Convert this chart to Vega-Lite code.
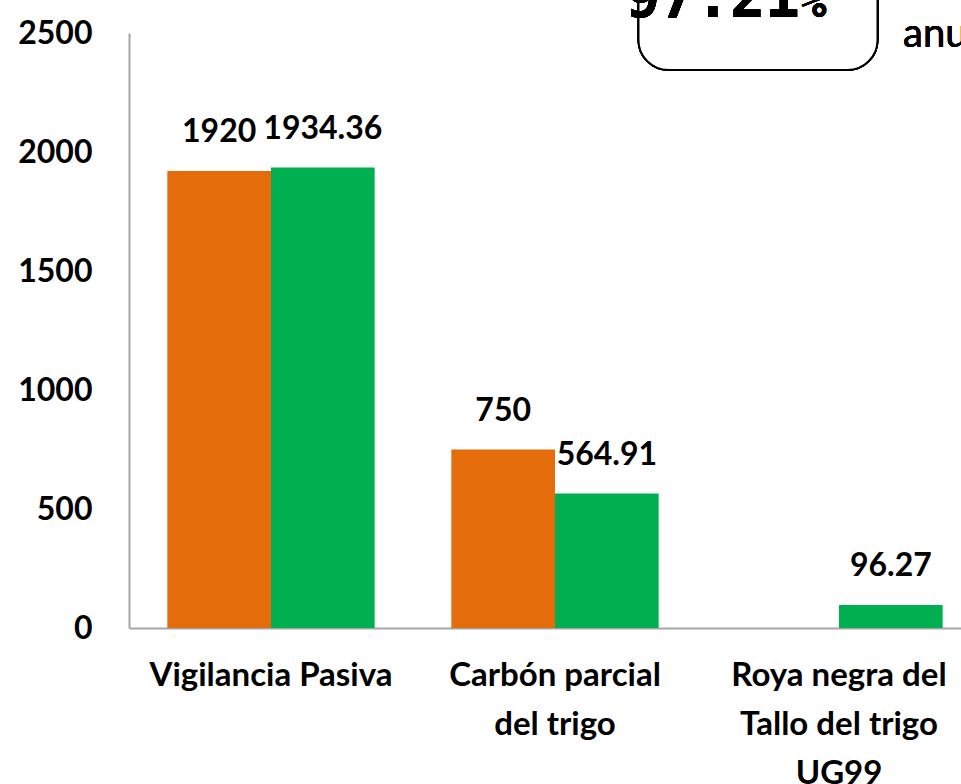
{
  "$schema": "https://vega.github.io/schema/vega-lite/v6.json",
  "autosize": {"type": "none"},
  "padding": {"left": 129, "top": 33, "right": 0, "bottom": 156},
  "width": 852,
  "height": 595,
  "background": "white",
  "config": {"view": {"stroke": null}, "font": "Lato"},
  "data": {
    "values": [
      {"categoria": "Vigilancia Pasiva", "serie": "Programado", "valor": 1920},
      {"categoria": "Vigilancia Pasiva", "serie": "Ejecutado", "valor": 1934.36},
      {"categoria": "Carbón parcial del trigo", "serie": "Programado", "valor": 750},
      {"categoria": "Carbón parcial del trigo", "serie": "Ejecutado", "valor": 564.91},
      {"categoria": "Roya negra del Tallo del trigo UG99", "serie": "Ejecutado", "valor": 96.27}
    ]
  },
  "encoding": {
    "x": {
      "field": "categoria", "type": "nominal", "sort": null,
      "scale": {"domain": ["Vigilancia Pasiva", "Carbón parcial del trigo", "Roya negra del Tallo del trigo UG99"], "paddingInner": 0.27, "paddingOuter": 0.135},
      "axis": {
        "title": null, "labelAngle": 0, "ticks": false, "domainColor": "#A6A6A6", "domainWidth": 2,
        "labelFont": "Lato", "labelFontWeight": "bold", "labelFontSize": 33, "labelColor": "#000000",
        "labelPadding": 31, "labelLineHeight": 49, "labelBaseline": "top", "labelLimit": 400,
        "labelExpr": "datum.label == 'Carbón parcial del trigo' ? ['Carbón parcial', 'del trigo'] : datum.label == 'Roya negra del Tallo del trigo UG99' ? ['Roya negra del', 'Tallo del trigo', 'UG99'] : datum.label"
      }
    },
    "y": {
      "field": "valor", "type": "quantitative",
      "scale": {"domain": [0, 2500], "nice": false},
      "axis": {
        "title": null, "values": [0, 500, 1000, 1500, 2000, 2500], "format": "d", "grid": false, "ticks": false,
        "domainColor": "#A6A6A6", "domainWidth": 2,
        "labelFont": "Lato", "labelFontWeight": "bold", "labelFontSize": 32, "labelColor": "#000000", "labelPadding": 37
      }
    }
  },
  "layer": [
    {
      "mark": {"type": "bar"},
      "encoding": {
        "xOffset": {"field": "serie", "type": "nominal", "scale": {"domain": ["Programado", "Ejecutado"], "paddingInner": 0, "paddingOuter": 0}},
        "color": {"field": "serie", "type": "nominal", "legend": null,
          "scale": {"domain": ["Programado", "Ejecutado"], "range": ["#E46C0A", "#00B050"]}}
      }
    },
    {
      "mark": {"type": "text", "dy": -39, "baseline": "middle", "font": "Lato", "fontWeight": "bold", "fontSize": 32, "color": "#000000"},
      "encoding": {
        "xOffset": {"field": "serie", "type": "nominal", "scale": {"domain": ["Programado", "Ejecutado"], "paddingInner": 0, "paddingOuter": 0}},
        "text": {"field": "valor", "type": "quantitative", "format": ".10~f"}
      }
    },
    {
      "mark": {"type": "bar", "width": 239, "xOffset": -81, "cornerRadius": 30, "fill": "white", "stroke": "black", "strokeWidth": 2, "clip": false},
      "encoding": {
        "x": {"datum": "Roya negra del Tallo del trigo UG99"},
        "y": {"datum": 2345},
        "y2": {"datum": 2900}
      }
    },
    {
      "mark": {"type": "text", "text": "97.21", "align": "right", "baseline": "alphabetic", "dx": -39, "font": "DejaVu Sans Mono", "fontWeight": "bold", "fontSize": 58, "color": "#000000", "clip": false},
      "encoding": {
        "x": {"datum": "Roya negra del Tallo del trigo UG99"},
        "y": {"datum": 2567}
      }
    },
    {
      "mark": {"type": "text", "text": "%", "align": "left", "baseline": "alphabetic", "dx": -39, "font": "DejaVu Sans Mono", "fontWeight": "bold", "fontSize": 44, "color": "#000000", "clip": false},
      "encoding": {
        "x": {"datum": "Roya negra del Tallo del trigo UG99"},
        "y": {"datum": 2567}
      }
    },
    {
      "mark": {"type": "text", "text": "anual", "align": "left", "baseline": "middle", "dx": 64, "font": "Lato", "fontSize": 40, "color": "#000000", "clip": false},
      "encoding": {
        "x": {"datum": "Roya negra del Tallo del trigo UG99"},
        "y": {"datum": 2492}
      }
    }
  ]
}
